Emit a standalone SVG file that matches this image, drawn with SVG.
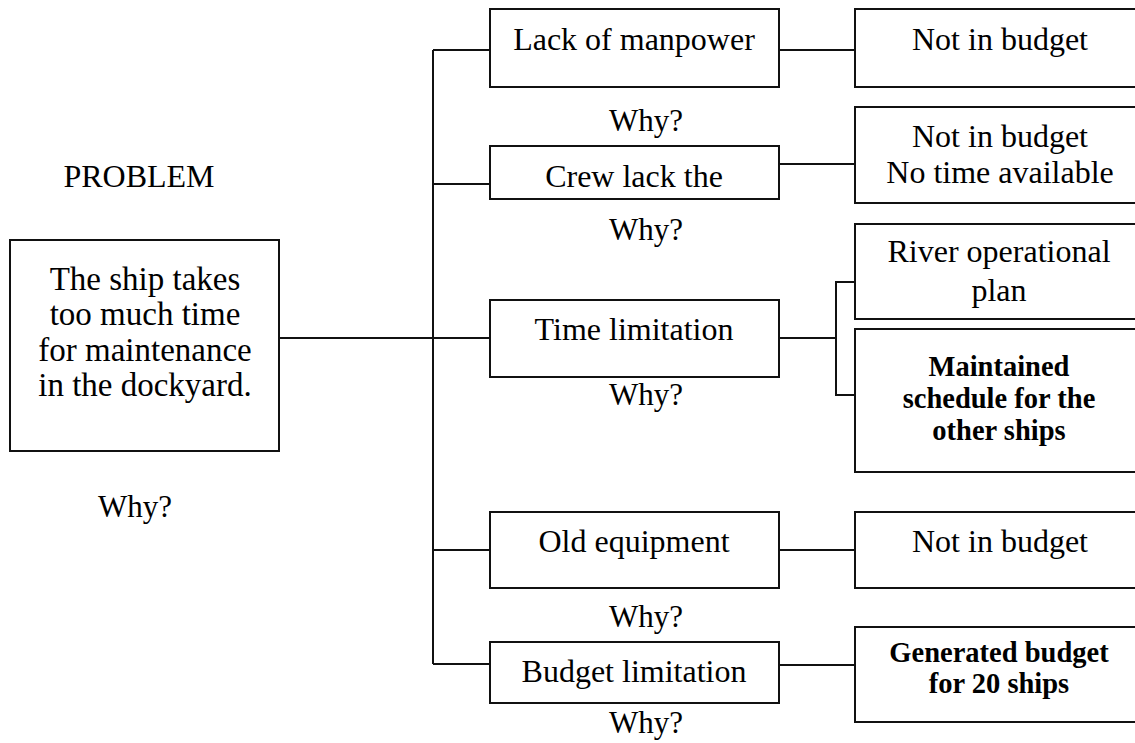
<svg xmlns="http://www.w3.org/2000/svg" width="1135" height="743" viewBox="0 0 1135 743">
  <style>
    .box { fill: #ffffff; stroke: #111111; stroke-width: 2; }
    .wire { fill: none; stroke: #111111; stroke-width: 2; }
    text { font-family: "Liberation Serif", "Times New Roman", serif; fill: #000000; text-anchor: middle; }
    .t { font-size: 32px; }
    .p { font-size: 33px; }
    .b { font-size: 28.5px; font-weight: bold; }
    .q { font-size: 31px; }
  </style>
  <rect width="1135" height="743" fill="#ffffff"/>

  <!-- connectors -->
  <g id="connectors" class="wire">
    <!-- main trunk and spine -->
    <line x1="279" y1="338" x2="490" y2="338"/>
    <line x1="433" y1="50" x2="433" y2="664"/>
    <line x1="433" y1="50" x2="490" y2="50"/>
    <line x1="433" y1="184" x2="490" y2="184"/>
    <line x1="433" y1="550" x2="490" y2="550"/>
    <line x1="433" y1="664" x2="490" y2="664"/>
    <!-- causes to root causes -->
    <line x1="779" y1="50" x2="855" y2="50"/>
    <line x1="779" y1="164" x2="855" y2="164"/>
    <line x1="779" y1="338" x2="836" y2="338"/>
    <polyline points="855,282 836,282 836,395 855,395"/>
    <line x1="779" y1="550" x2="855" y2="550"/>
    <line x1="779" y1="665" x2="855" y2="665"/>
  </g>

  <!-- headings -->
  <text id="label-problem" class="t" x="139" y="187">PROBLEM</text>
  <text id="label-why-problem" class="q" x="135" y="517">Why?</text>

  <g id="node-problem">
    <rect class="box" x="10" y="240" width="269" height="211"/>
    <text class="p" x="145" y="290">The ship takes</text>
    <text class="p" x="145" y="325">too much time</text>
    <text class="p" x="145" y="361">for maintenance</text>
    <text class="p" x="145" y="396">in the dockyard.</text>
  </g>

  <!-- first-level causes -->
  <g id="node-manpower">
    <rect class="box" x="490" y="9" width="289" height="78"/>
    <text class="t" x="634" y="50">Lack of manpower</text>
    <text class="q" x="646" y="131">Why?</text>
  </g>
  <g id="node-crew">
    <rect class="box" x="490" y="146" width="289" height="53"/>
    <text class="t" x="634" y="187">Crew lack the</text>
    <text class="q" x="646" y="240">Why?</text>
  </g>
  <g id="node-time">
    <rect class="box" x="490" y="300" width="289" height="77"/>
    <text class="t" x="634" y="340">Time limitation</text>
    <text class="q" x="646" y="405">Why?</text>
  </g>
  <g id="node-equipment">
    <rect class="box" x="490" y="512" width="289" height="76"/>
    <text class="t" x="634" y="552">Old equipment</text>
    <text class="q" x="646" y="627">Why?</text>
  </g>
  <g id="node-budget">
    <rect class="box" x="490" y="642" width="289" height="61"/>
    <text class="t" x="634" y="682">Budget limitation</text>
    <text class="q" x="646" y="733">Why?</text>
  </g>

  <!-- root causes -->
  <g id="node-not-in-budget-1">
    <rect class="box" x="855" y="9" width="300" height="78"/>
    <text class="t" x="1000" y="50">Not in budget</text>
  </g>
  <g id="node-not-in-budget-2">
    <rect class="box" x="855" y="107" width="300" height="96"/>
    <text class="t" x="1000" y="147">Not in budget</text>
    <text class="t" x="1000" y="183">No time available</text>
  </g>
  <g id="node-river-plan">
    <rect class="box" x="855" y="224" width="300" height="95"/>
    <text class="t" x="999" y="262">River operational</text>
    <text class="t" x="999" y="301">plan</text>
  </g>
  <g id="node-schedule">
    <rect class="box" x="855" y="329" width="300" height="143"/>
    <text class="b" x="999" y="376">Maintained</text>
    <text class="b" x="999" y="408">schedule for the</text>
    <text class="b" x="999" y="440">other ships</text>
  </g>
  <g id="node-not-in-budget-3">
    <rect class="box" x="855" y="512" width="300" height="76"/>
    <text class="t" x="1000" y="552">Not in budget</text>
  </g>
  <g id="node-generated-budget">
    <rect class="box" x="855" y="627" width="300" height="95"/>
    <text class="b" x="999" y="662">Generated budget</text>
    <text class="b" x="999" y="693">for 20 ships</text>
  </g>
</svg>
